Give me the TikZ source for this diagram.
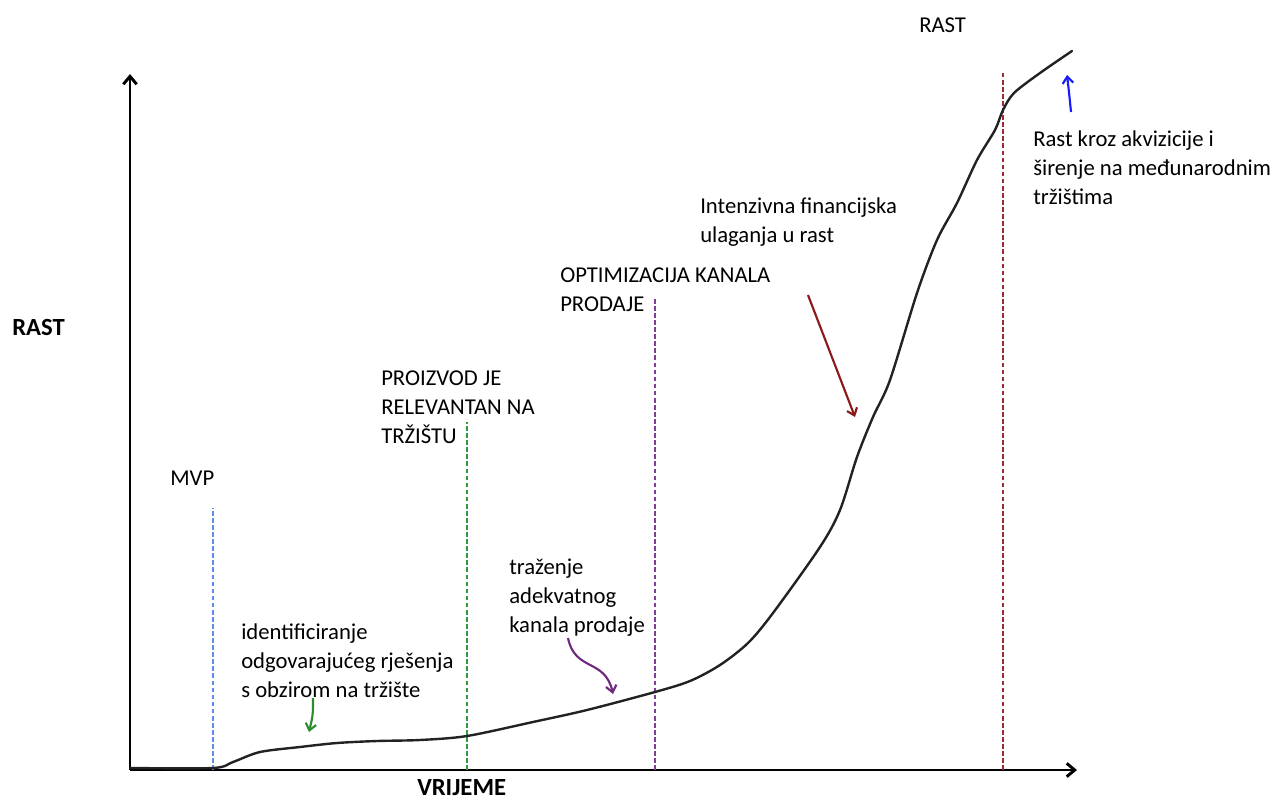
\documentclass[tikz,border=0pt]{standalone}
\usepackage{fontspec}
\setmainfont{Carlito}
\usepackage{tikz}
\usetikzlibrary{arrows.meta}
\definecolor{C5B8DEF}{HTML}{5B8DEF}
\definecolor{C2F9A3A}{HTML}{2F9A3A}
\definecolor{C7F3F98}{HTML}{7F3F98}
\definecolor{C9E2A33}{HTML}{9E2A33}
\definecolor{C2E8B2E}{HTML}{2E8B2E}
\definecolor{C6E2A7E}{HTML}{6E2A7E}
\definecolor{C8B1A1A}{HTML}{8B1A1A}
\definecolor{C1A1AFF}{HTML}{1A1AFF}
\definecolor{C222222}{HTML}{222222}

\begin{document}
\begin{tikzpicture}[x=0.75pt,y=-0.75pt,inner sep=0pt,
  lbl/.style={anchor=base west,align=left,font=\fontsize{17}{21.4}\selectfont},
  axislbl/.style={anchor=base west,font=\fontsize{18.5}{22}\selectfont\bfseries},
  axis/.style={line width=2.2pt,-{Straight Barb[length=6pt,width=10pt]}},
  phase/.style={line width=2.2pt,dash pattern=on 3.5pt off 1.8pt},
  hint/.style={line width=1.6pt,-{Straight Barb[length=5pt,width=8pt]}}]
\useasboundingbox (0,0) rectangle (1272,800);

% axes
\coordinate (o) at (130,770);
\coordinate (xend) at (1077,770);
\coordinate (yend) at (130,74);
\draw [axis] (o) -- (xend);
\draw [axis] (o) -- (yend);
\node (n0) [axislbl] at (12,335) {RAST};
\node (n1) [axislbl] at (417,795) {VRIJEME};

% phases
\coordinate (p0) at (213,770); \coordinate (q0) at (213,508);
\coordinate (p1) at (467,770); \coordinate (q1) at (467,422);
\coordinate (p2) at (655,770); \coordinate (q2) at (655,297);
\coordinate (p3) at (1003,770); \coordinate (q3) at (1003,72);
\draw [phase,C5B8DEF] (p0) -- (q0);
\draw [phase,C2F9A3A] (p1) -- (q1);
\draw [phase,C7F3F98] (p2) -- (q2);
\draw [phase,C9E2A33] (p3) -- (q3);

% labels (base = last line)
\node (n2) [lbl] at (170,485) {MVP};
\node (n3) [lbl] at (381,443) {PROIZVOD JE\\RELEVANTAN NA\\TRŽIŠTU};
\node (n4) [lbl] at (560,311) {OPTIMIZACIJA KANALA\\PRODAJE};
\node (n5) [lbl] at (700,242) {Intenzivna financijska\\ulaganja u rast};
\node (n6) [lbl] at (919,32) {RAST};
\node (n7) [lbl] at (1033,204) {Rast kroz akvizicije i\\širenje na međunarodnim\\tržištima};
\node (n8) [lbl] at (241,697) {identificiranje\\odgovarajućeg rješenja\\s obzirom na tržište};
\node (n9) [lbl] at (509,632) {traženje\\adekvatnog\\kanala prodaje};

% growth curve
\draw [line width=1.8pt,C222222,line cap=round] plot[smooth,tension=0.5] coordinates {
  (130,768) (213,768) (233,762) (260,752) (300,747) (337,743) (377,741)
  (420,740) (467,736) (533,722) (587,710) (655,692) (690,681) (720,665)
  (748,643) (773,613) (820,547) (840,510) (857,457) (873,417) (890,380)
  (917,293) (937,240) (957,203) (977,160) (995,130) (1003,110) (1014,93)
  (1040,73) (1072,51)};

% hints
\coordinate (a0) at (313,698); \coordinate (b0) at (309,732);
\coordinate (a1) at (568,638); \coordinate (b1) at (613,694);
\coordinate (a2) at (808,295); \coordinate (b2) at (855,417);
\coordinate (a3) at (1071,112); \coordinate (b3) at (1067,75);
\draw [hint,C2E8B2E] (a0) .. controls (313,715) .. (b0);
\draw [hint,C6E2A7E] (a1) .. controls (575,672) and (605,658) .. (b1);
\draw [hint,C8B1A1A] (a2) -- (b2);
\draw [hint,C1A1AFF] (a3) .. controls (1069,92) .. (b3);
\end{tikzpicture}
\end{document}
